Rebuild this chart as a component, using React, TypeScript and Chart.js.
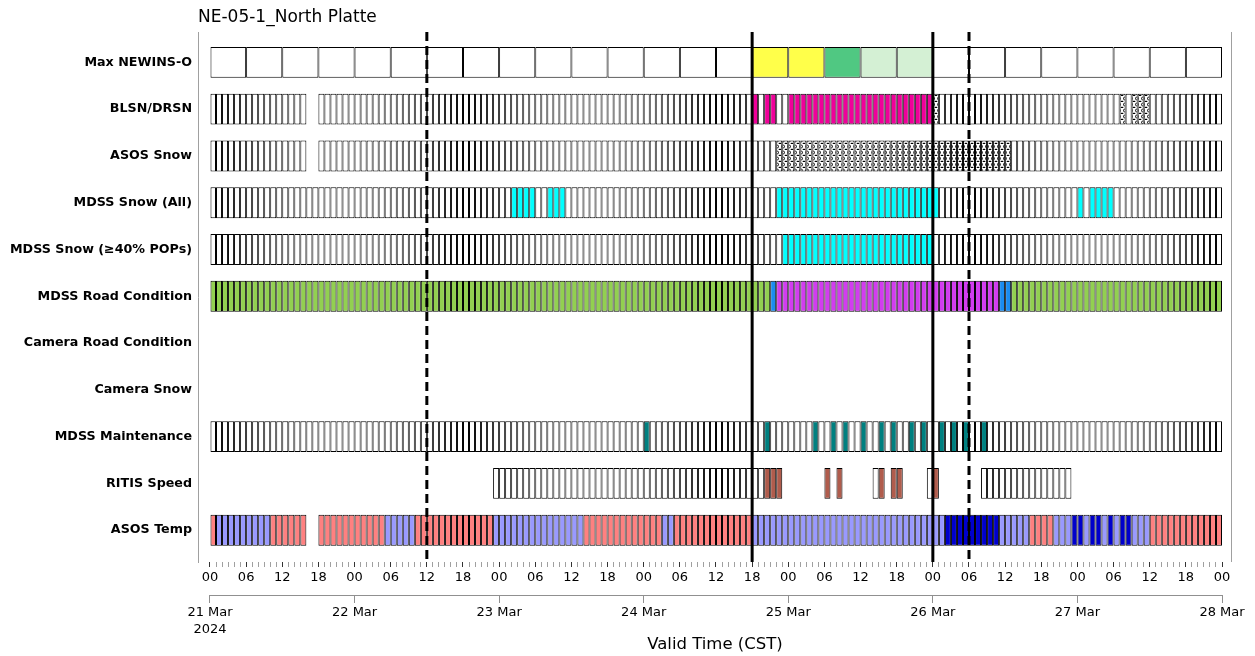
import React, { useEffect, useRef } from 'react';
import { Chart, registerables } from 'chart.js';

Chart.register(...registerables);

const chartTitle = 'NE-05-1_North Platte';
const axisTitle = 'Valid Time (CST)';
const rowLabels = [
  'Max NEWINS-O',
  'BLSN/DRSN',
  'ASOS Snow',
  'MDSS Snow (All)',
  'MDSS Snow (≥40% POPs)',
  'MDSS Road Condition',
  'Camera Road Condition',
  'Camera Snow',
  'MDSS Maintenance',
  'RITIS Speed',
  'ASOS Temp',
];
const hourLabels = ['00', '06', '12', '18'];
const dayLabels: (string | string[])[] = [['21 Mar', '2024'], '22 Mar', '23 Mar', '24 Mar', '25 Mar', '26 Mar', '27 Mar', '28 Mar'];
const totalHours = 168;
const eventLineHours = [36, 90, 120, 126];
const eventLineDashed = [true, false, false, true];

type Run = [number, number, string];

// [start hour, end hour, state]
const newinsRuns: Run[] = [[0, 90, 'none'], [90, 102, 'yellow'], [102, 108, 'green'], [108, 120, 'lightgreen'], [120, 168, 'none']];
const blsnRuns: Run[] = [
  [0, 16, 'none'], [18, 90, 'none'], [90, 91, 'blsn'], [91, 92, 'none'], [92, 94, 'blsn'], [94, 96, 'none'],
  [96, 120, 'blsn'], [120, 121, 'dots'], [121, 151, 'none'], [151, 152, 'dots'], [152, 153, 'none'],
  [153, 156, 'dots'], [156, 168, 'none'],
];
const asosSnowRuns: Run[] = [[0, 16, 'none'], [18, 94, 'none'], [94, 133, 'dots'], [133, 168, 'none']];
const mdssSnowAllRuns: Run[] = [
  [0, 50, 'none'], [50, 54, 'snow'], [54, 56, 'none'], [56, 59, 'snow'], [59, 94, 'none'], [94, 121, 'snow'],
  [121, 144, 'none'], [144, 145, 'snow'], [145, 146, 'none'], [146, 150, 'snow'], [150, 168, 'none'],
];
const mdssSnow40Runs: Run[] = [[0, 95, 'none'], [95, 120, 'snow'], [120, 168, 'none']];
const roadRuns: Run[] = [[0, 93, 'dry'], [93, 94, 'icy'], [94, 131, 'snowy'], [131, 133, 'icy'], [133, 168, 'dry']];
const maintenanceHours = [72, 92, 100, 103, 105, 108, 111, 113, 116, 118, 121, 123, 125, 128];
const ritisRuns: Run[] = [
  [47, 92, 'none'], [92, 95, 'slow'], [102, 103, 'slow'], [104, 105, 'slow'], [110, 111, 'none'], [111, 112, 'slow'],
  [113, 115, 'slow'], [119, 120, 'none'], [120, 121, 'slow'], [128, 143, 'none'],
];
const asosTempRuns: Run[] = [
  [0, 1, 'warm'], [1, 10, 'cold'], [10, 16, 'warm'], [18, 29, 'warm'], [29, 34, 'cold'], [34, 47, 'warm'],
  [47, 62, 'cold'], [62, 75, 'warm'], [75, 77, 'cold'], [77, 90, 'warm'], [90, 122, 'cold'], [122, 131, 'frigid'],
  [131, 136, 'cold'], [136, 140, 'warm'], [140, 143, 'cold'], [143, 145, 'frigid'], [145, 146, 'cold'],
  [146, 148, 'frigid'], [148, 149, 'cold'], [149, 150, 'frigid'], [150, 151, 'cold'], [151, 153, 'frigid'],
  [153, 156, 'cold'], [156, 168, 'warm'],
];

const maintenanceRuns: Run[] = (() => {
  const runs: Run[] = [];
  let h = 0;
  maintenanceHours.forEach((m) => {
    if (m > h) runs.push([h, m, 'none']);
    runs.push([m, m + 1, 'treated']);
    h = m + 1;
  });
  if (h < totalHours) runs.push([h, totalHours, 'none']);
  return runs;
})();

const rows: { row: number; runs: Run[]; step: number }[] = [
  { row: 0, runs: newinsRuns, step: 6 },
  { row: 1, runs: blsnRuns, step: 1 },
  { row: 2, runs: asosSnowRuns, step: 1 },
  { row: 3, runs: mdssSnowAllRuns, step: 1 },
  { row: 4, runs: mdssSnow40Runs, step: 1 },
  { row: 5, runs: roadRuns, step: 1 },
  { row: 8, runs: maintenanceRuns, step: 1 },
  { row: 9, runs: ritisRuns, step: 1 },
  { row: 10, runs: asosTempRuns, step: 1 },
];

const stateColors: Record<string, string> = {
  none: '#ffffff',
  yellow: '#ffff4a',
  green: '#50c882',
  lightgreen: '#d4f0d4',
  blsn: '#f0009a',
  snow: '#00ffff',
  dry: '#92d050',
  snowy: '#d23cf0',
  icy: '#1a8cf0',
  treated: '#008080',
  slow: '#b05c4c',
  warm: '#ff8080',
  cold: '#9999ff',
  frigid: '#0000cc',
};

const FONT = "'DejaVu Sans', sans-serif";

export default function App() {
  const ref = useRef<HTMLCanvasElement>(null);
  useEffect(() => {
    const canvas = ref.current!;
    const pc = document.createElement('canvas');
    pc.width = 6;
    pc.height = 6;
    const p = pc.getContext('2d')!;
    p.fillStyle = '#ffffff';
    p.fillRect(0, 0, 6, 6);
    p.strokeStyle = '#000000';
    p.lineWidth = 1;
    p.beginPath();
    p.arc(3, 2.5, 1.5, 0, Math.PI * 2);
    p.stroke();
    p.fillStyle = '#000000';
    p.fillRect(0, 4.8, 1.3, 1.2);
    p.fillRect(4.7, 4.8, 1.3, 1.2);
    const dotPattern = canvas.getContext('2d')!.createPattern(pc, 'repeat');

    const datasets = rows.map((r) => {
      const data: { x: [number, number]; y: number; s: string }[] = [];
      r.runs.forEach(([a, b, s]) => {
        for (let h = a; h < b; h += r.step) data.push({ x: [h, h + r.step], y: r.row, s });
      });
      return {
        type: 'bar' as const,
        data,
        backgroundColor: (c: any) => {
          const s = c.raw ? c.raw.s : 'none';
          return s === 'dots' ? dotPattern : stateColors[s];
        },
        borderColor: '#000000',
        borderWidth: 1,
        borderSkipped: false,
        grouped: false,
        categoryPercentage: 1,
        barPercentage: 0.66,
      };
    });

    const overlay = {
      id: 'overlay',
      afterDatasetsDraw(chart: any) {
        const { ctx, chartArea } = chart;
        const xs = chart.scales.x;
        ctx.save();
        ctx.strokeStyle = '#000000';
        ctx.lineWidth = 3;
        eventLineHours.forEach((h, i) => {
          const px = xs.getPixelForValue(h);
          ctx.setLineDash(eventLineDashed[i] ? [9, 5] : []);
          ctx.beginPath();
          ctx.moveTo(px, chartArea.top);
          ctx.lineTo(px, chartArea.bottom);
          ctx.stroke();
        });
        ctx.restore();
      },
      afterDraw(chart: any) {
        const { ctx, chartArea } = chart;
        const x2 = chart.scales.x2;
        ctx.save();
        ctx.strokeStyle = '#a0a0a0';
        ctx.lineWidth = 1;
        ctx.beginPath();
        ctx.moveTo(chartArea.right - 0.5, chartArea.top);
        ctx.lineTo(chartArea.right - 0.5, chartArea.bottom);
        ctx.stroke();
        ctx.strokeStyle = '#909090';
        ctx.beginPath();
        ctx.moveTo(x2.getPixelForValue(0), x2.top + 0.5);
        ctx.lineTo(x2.getPixelForValue(totalHours), x2.top + 0.5);
        ctx.stroke();
        ctx.fillStyle = '#000000';
        ctx.font = `17px ${FONT}`;
        ctx.textBaseline = 'middle';
        ctx.textAlign = 'left';
        ctx.fillText(chartTitle, chartArea.left, 18);
        ctx.restore();
      },
    };

    const dayTicks = dayLabels.map((_, i) => i * 24);
    const hourTicks: number[] = [];
    for (let h = 0; h <= totalHours; h++) hourTicks.push(h);

    const chart = new Chart(canvas, {
      type: 'bar',
      data: { datasets: datasets as any },
      options: {
        animation: false,
        responsive: true,
        maintainAspectRatio: false,
        indexAxis: 'y',
        layout: { padding: { left: 0, right: 23, top: 32, bottom: 0 } },
        plugins: { legend: { display: false }, tooltip: { enabled: false }, title: { display: false } },
        scales: {
          y: {
            type: 'linear',
            reverse: true,
            offset: false,
            min: -0.65,
            max: 10.68,
            afterBuildTicks: (s: any) => {
              s.ticks = rowLabels.map((_, i) => ({ value: i }));
            },
            afterFit: (s: any) => {
              s.width = 198;
              s.paddingTop = 0;
              s.paddingBottom = 0;
            },
            ticks: {
              autoSkip: false,
              padding: 6,
              color: '#000000',
              font: { family: FONT, size: 12.7, weight: 'bold' },
              callback: (v: any) => rowLabels[v as number] ?? '',
            },
            grid: { display: false, drawTicks: false, offset: false },
            border: { display: true, color: '#a0a0a0', width: 1 },
          },
          x: {
            type: 'linear',
            position: 'bottom',
            weight: 0,
            offset: false,
            min: -1.99,
            max: 169.66,
            afterBuildTicks: (s: any) => {
              s.ticks = hourTicks.map((v) => ({ value: v }));
            },
            afterFit: (s: any) => {
              s.height = 33;
              s.paddingLeft = 0;
              s.paddingRight = 0;
            },
            ticks: {
              autoSkip: false,
              maxRotation: 0,
              padding: 3,
              color: '#000000',
              font: { family: FONT, size: 13 },
              callback: (v: any) => ((v as number) % 6 === 0 ? hourLabels[((v as number) % 24) / 6] : ''),
            },
            grid: {
              display: true,
              drawOnChartArea: false,
              drawTicks: true,
              tickLength: 5,
              tickWidth: 1,
              tickColor: (c: any) => (c.tick && c.tick.value % 6 === 0 ? '#333333' : '#a0a0a0'),
            },
            border: { display: false },
          },
          x2: {
            type: 'linear',
            axis: 'x',
            position: 'bottom',
            weight: 1,
            offset: false,
            min: -1.99,
            max: 169.66,
            afterBuildTicks: (s: any) => {
              s.ticks = dayTicks.map((v) => ({ value: v }));
            },
            afterFit: (s: any) => {
              s.height = 61;
              s.paddingLeft = 0;
              s.paddingRight = 0;
            },
            ticks: {
              autoSkip: false,
              maxRotation: 0,
              padding: 1,
              color: '#000000',
              font: { family: FONT, size: 13, lineHeight: 1.3 },
              callback: (_v: any, i: number) => dayLabels[i] as any,
            },
            grid: {
              display: true,
              drawOnChartArea: false,
              drawTicks: true,
              tickLength: 8,
              tickWidth: 1,
              tickColor: '#909090',
            },
            border: { display: false },
            title: {
              display: true,
              text: axisTitle,
              color: '#000000',
              font: { family: FONT, size: 16.5 },
              padding: { top: 0, bottom: 1 },
            },
          },
        },
      } as any,
      plugins: [overlay],
    });
    return () => chart.destroy();
  }, []);
  return (
    <div style={{ position: 'absolute', left: 0, top: 0, width: 1255, height: 656 }}>
      <canvas ref={ref} />
    </div>
  );
}
